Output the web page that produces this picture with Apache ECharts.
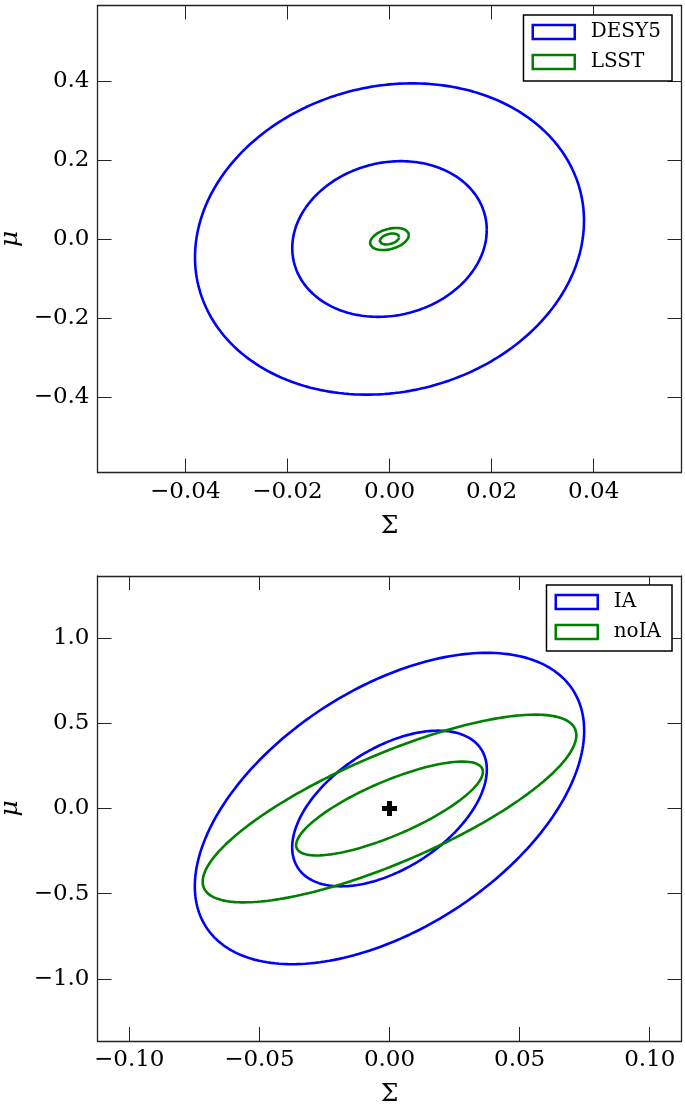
<!DOCTYPE html>
<html><head><meta charset="utf-8">
<script src="https://cdn.jsdelivr.net/npm/echarts@6/dist/echarts.min.js"></script>
<style>html,body{margin:0;padding:0;background:#fff}#c{width:685px;height:1108px}</style>
</head><body><div id="c"></div>
<script>
// ---- Data (Fisher-forecast confidence ellipses: centre, sigmas, correlation) ----
const topNames = ['DESY5', 'LSST'];
const topColors = ['#0000ff', '#008000'];
const topCenterX = [0, 0];
const topCenterY = [0, 0];
const topSigmaX = [0.01905, 0.0019];
const topSigmaY = [0.197, 0.014];
const topRho = [0.117, 0.35];

const bottomNames = ['IA', 'noIA'];
const bottomColors = ['#0000ff', '#008000'];
const bottomCenterX = [0, 0];
const bottomCenterY = [0, 0];
const bottomSigmaX = [0.0374, 0.0359];
const bottomSigmaY = [0.457, 0.2755];
const bottomRho = [0.5, 0.78];

const contourLevels = [1, 2];        // 1-sigma and 2-sigma contours
const fiducialPoint = [[0, 0]];      // plus marker in the lower panel

const topXTicks = [-0.04, -0.02, 0, 0.02, 0.04];
const topYTicks = [-0.4, -0.2, 0, 0.2, 0.4];
const bottomXTicks = [-0.10, -0.05, 0, 0.05, 0.10];
const bottomYTicks = [-1.0, -0.5, 0, 0.5, 1.0];
const topXRange = [-0.0572, 0.0572];
const topYRange = [-0.591, 0.591];
const bottomXRange = [-0.1122, 0.1122];
const bottomYRange = [-1.365, 1.365];

// ---- Build ellipse outlines from covariance parameters ----
function ellipse(cx, cy, sx, sy, rho, k) {
  const pts = [];
  const n = 240;
  const q = Math.sqrt(1 - rho * rho);
  for (let i = 0; i <= n; i++) {
    const t = 2 * Math.PI * i / n;
    const c = Math.cos(t), s = Math.sin(t);
    pts.push([cx + k * sx * c, cy + k * sy * (rho * c + q * s)]);
  }
  return pts;
}
const FONT = 'DejaVu Serif';
const AX = '#222';
function fmt(d) {
  return v => (v < -1e-12 ? '\u2212' : '') + Math.abs(v).toFixed(d);
}
function axisPair(kind, gridIndex, range, ticks, dec, nameTxt) {
  const common = {
    type: 'value', gridIndex, min: range[0], max: range[1], scale: true,
    splitLine: { show: false },
    axisLine: { show: true, onZero: false, lineStyle: { color: AX, width: 1.3 } },
    axisTick: { show: true, inside: true, length: 14, customValues: ticks, lineStyle: { color: AX, width: 1 } }
  };
  const main = Object.assign({}, common, {
    position: kind === 'x' ? 'bottom' : 'left',
    axisLabel: { show: true, customValues: ticks, formatter: fmt(dec), fontFamily: FONT, fontSize: 23, color: '#000', margin: 8 },
    name: nameTxt, nameLocation: 'middle',
    nameGap: kind === 'x' ? 41 : 66,
    nameRotate: kind === 'x' ? 0 : 90,
    nameTextStyle: { fontFamily: FONT, fontSize: 25, color: '#000', fontStyle: kind === 'x' ? 'normal' : 'italic' }
  });
  const second = Object.assign({}, common, {
    position: kind === 'x' ? 'top' : 'right',
    axisLabel: { show: false }
  });
  return [main, second];
}
const xAxes = [].concat(
  axisPair('x', 0, topXRange, topXTicks, 2, '\u03A3'),
  axisPair('x', 1, bottomXRange, bottomXTicks, 2, '\u03A3'));
const yAxes = [].concat(
  axisPair('y', 0, topYRange, topYTicks, 1, '\u03BC'),
  axisPair('y', 1, bottomYRange, bottomYTicks, 1, '\u03BC'));

const series = [];
function addPanel(names, colors, cxs, cys, sxs, sys, rhos, axisIndex) {
  names.forEach((nm, i) => {
    contourLevels.forEach(k => {
      series.push({
        type: 'line', name: nm, xAxisIndex: axisIndex, yAxisIndex: axisIndex,
        data: ellipse(cxs[i], cys[i], sxs[i], sys[i], rhos[i], k),
        showSymbol: false, smooth: false, silent: true, animation: false,
        lineStyle: { color: colors[i], width: 2.6 }, itemStyle: { color: colors[i] }
      });
    });
  });
}
addPanel(topNames, topColors, topCenterX, topCenterY, topSigmaX, topSigmaY, topRho, 0);
addPanel(bottomNames, bottomColors, bottomCenterX, bottomCenterY, bottomSigmaX, bottomSigmaY, bottomRho, 2);
series.push({
  type: 'scatter', name: 'fiducial', xAxisIndex: 2, yAxisIndex: 2, data: fiducialPoint,
  symbol: 'path://M4,0H8V4H12V8H8V12H4V8H0V4H4Z', symbolSize: 15,
  itemStyle: { color: '#000', opacity: 1 }, silent: true, animation: false, z: 5
});

function legendFor(names, colors, top) {
  return {
    orient: 'vertical', right: 13, top: top,
    data: names.map((n, i) => ({ name: n, icon: 'rect',
      itemStyle: { color: '#fff', borderColor: colors[i], borderWidth: 2.5 } })),
    itemWidth: 42, itemHeight: 14, itemGap: 10,
    padding: [7, 11, 9, 8],
    backgroundColor: '#fff', borderColor: '#000', borderWidth: 1.5, borderRadius: 0,
    selectedMode: false,
    textStyle: { fontFamily: FONT, fontSize: 20, color: '#000', padding: [0, 0, 0, 11] }
  };
}

const chart = echarts.init(document.getElementById('c'), null, { renderer: 'canvas' });
chart.setOption({
  backgroundColor: '#fff',
  animation: false,
  grid: [
    { left: 97.5, top: 5.5, width: 584, height: 467, outerBoundsMode: 'none', containLabel: false },
    { left: 97.5, top: 576, width: 584, height: 465, outerBoundsMode: 'none', containLabel: false }
  ],
  xAxis: xAxes,
  yAxis: yAxes,
  legend: [legendFor(topNames, topColors, 15), legendFor(bottomNames, bottomColors, 585)],
  series: series
});
</script></body></html>
